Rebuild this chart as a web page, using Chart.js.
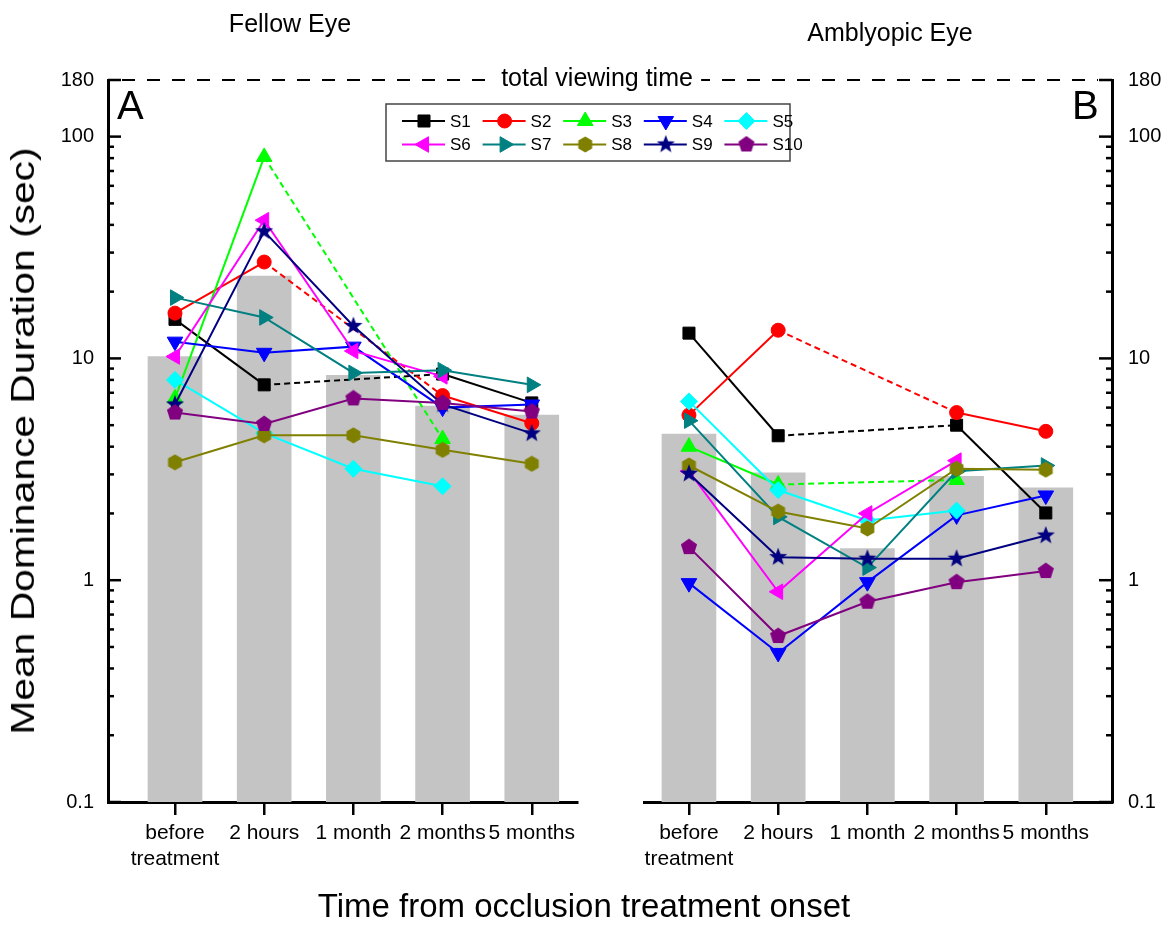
<!DOCTYPE html>
<html>
<head>
<meta charset="utf-8">
<script src="https://cdn.jsdelivr.net/npm/chart.js@4.4.1/dist/chart.umd.min.js"></script>
<style>
body { margin: 0; background: #fff; }
#wrap { position: relative; width: 1168px; height: 944px; font-family: "Liberation Sans", Arial, sans-serif; color: #000; }
canvas { position: absolute; left: 0; top: 0; }
.lbl { position: absolute; white-space: nowrap; line-height: 1; }
</style>
</head>
<body>
<div id="wrap">
  <canvas id="fellowChart" width="1168" height="944"></canvas>
  <canvas id="amblyChart" width="1168" height="944"></canvas>
  <div class="lbl" style="left:290px; top:11px; font-size:25px; transform:translateX(-50%);">Fellow Eye</div>
  <div class="lbl" style="left:890px; top:20px; font-size:25px; transform:translateX(-50%);">Amblyopic Eye</div>
  <div class="lbl" style="left:117px; top:85px; font-size:40px;">A</div>
  <div class="lbl" style="left:1072px; top:85px; font-size:40px;">B</div>
  <div class="lbl" style="left:597px; top:65px; font-size:25px; transform:translateX(-50%); background:#fff; padding:0 8px;">total viewing time</div>
  <div class="lbl" style="left:22px; top:441px; font-size:34px; transform:translate(-50%,-50%) rotate(-90deg) scaleX(1.2);">Mean Dominance Duration (sec)</div>
  <div class="lbl" style="left:584px; top:889px; font-size:33px; transform:translateX(-50%);">Time from occlusion treatment onset</div>
</div>
<script>
// Catégories et graduations
const categories = ['before\ntreatment', '2 hours', '1 month', '2 months', '5 months'];
const yTicks = [0.1, 0.2, 0.3, 0.4, 0.5, 0.6, 0.7, 0.8, 0.9,
                1, 2, 3, 4, 5, 6, 7, 8, 9,
                10, 20, 30, 40, 50, 60, 70, 80, 90, 100, 180];
const yLabelled = [0.1, 1, 10, 100, 180];
const totalViewing = 180;

const subjects = ['S1', 'S2', 'S3', 'S4', 'S5', 'S6', 'S7', 'S8', 'S9', 'S10'];

// Moyennes (barres grises)
const fellowMeans = [10.2, 23.5, 8.4, 6.1, 5.55];
const amblyMeans = [4.56, 3.05, 1.39, 2.94, 2.61];

// Oeil sain (A)
const fellowS1 = [15.0, 7.6, null, 8.5, 6.3];
const fellowS2 = [16.0, 27.2, null, 6.8, 5.1];
const fellowS3 = [6.6, 81, null, 4.33, null];
const fellowS4 = [11.9, 10.6, 11.3, 6.0, 6.2];
const fellowS5 = [8.0, 4.6, 3.18, 2.65, null];
const fellowS6 = [10.2, 42, 10.8, 8.3, null];
const fellowS7 = [18.8, 15.3, 8.6, 8.85, 7.6];
const fellowS8 = [3.4, 4.5, 4.5, 3.87, 3.35];
const fellowS9 = [6.2, 37.4, 14.0, 6.2, 4.59];
const fellowS10 = [5.7, 5.06, 6.6, 6.3, 5.76];

// Oeil amblyope (B)
const amblyS1 = [13.0, 4.48, null, 5.0, 2.01];
const amblyS2 = [5.55, 13.4, null, 5.7, 4.69];
const amblyS3 = [4.0, 2.7, null, 2.83, null];
const amblyS4 = [0.97, 0.47, 0.98, 1.96, 2.41];
const amblyS5 = [6.4, 2.55, 1.86, 2.06, null];
const amblyS6 = [3.1, 0.887, 2.0, 3.46, null];
const amblyS7 = [5.24, 1.93, 1.14, 3.1, 3.29];
const amblyS8 = [3.29, 2.04, 1.71, 3.18, 3.15];
const amblyS9 = [3.02, 1.27, 1.25, 1.25, 1.59];
const amblyS10 = [1.41, 0.56, 0.80, 0.98, 1.10];

const fellowSeries = [fellowS1, fellowS2, fellowS3, fellowS4, fellowS5, fellowS6, fellowS7, fellowS8, fellowS9, fellowS10];
const amblySeries = [amblyS1, amblyS2, amblyS3, amblyS4, amblyS5, amblyS6, amblyS7, amblyS8, amblyS9, amblyS10];

const subjectColors = ['#000000', '#ff0000', '#00ff00', '#0000ff', '#00ffff',
                       '#ff00ff', '#008080', '#808000', '#000080', '#800080'];
const barColor = '#c4c4c4';

Chart.defaults.font.family = '"Liberation Sans", Arial, sans-serif';
Chart.defaults.color = '#000';

// Marqueurs non fournis par Chart.js (hexagone, étoile, pentagone)
function makeMarker(shape, color, size) {
    const c = document.createElement('canvas');
    c.width = size; c.height = size;
    const g = c.getContext('2d');
    const cx = size / 2, cy = size / 2, r = size / 2 - 0.5;
    g.fillStyle = color;
    g.beginPath();
    if (shape === 'star') {
        for (let k = 0; k < 10; k++) {
            const rr = k % 2 === 0 ? r : r * 0.42;
            const a = -Math.PI / 2 + k * Math.PI / 5;
            g.lineTo(cx + rr * Math.cos(a), cy + rr * Math.sin(a));
        }
    } else {
        const n = shape === 'hexagon' ? 6 : 5;
        for (let k = 0; k < n; k++) {
            const a = -Math.PI / 2 + k * 2 * Math.PI / n;
            g.lineTo(cx + r * Math.cos(a), cy + r * Math.sin(a));
        }
    }
    g.closePath();
    g.fill();
    return c;
}

const markerStyles = ['rect', 'circle', 'triangle', 'triangle', 'rectRot', 'triangle', 'triangle',
    makeMarker('hexagon', subjectColors[7], 17), makeMarker('star', subjectColors[8], 20), makeMarker('pentagon', subjectColors[9], 18)];
const markerRadius = [8.5, 7, 9, 9, 8.5, 9, 9, 8, 9, 8];
const markerRotation = [0, 0, 0, 180, 0, -90, 90, 0, 0, 0];

// segment pointillé quand une mesure manque
const gapDash = ctx => (ctx.p0.skip || ctx.p1.skip ? [6, 4] : undefined);

function buildDatasets(means, series) {
    const sets = [{
        type: 'bar',
        label: 'mean',
        data: means.map((v, i) => ({ x: i, y: v })),
        backgroundColor: barColor,
        borderWidth: 0,
        barThickness: 54,
        order: 100
    }];
    series.forEach((vals, k) => {
        sets.push({
            type: 'line',
            label: subjects[k],
            data: vals.map((v, i) => ({ x: i, y: v })),
            borderColor: subjectColors[k],
            backgroundColor: subjectColors[k],
            pointBackgroundColor: subjectColors[k],
            pointBorderColor: subjectColors[k],
            pointBorderWidth: 1,
            pointStyle: markerStyles[k],
            pointRadius: markerRadius[k],
            pointRotation: markerRotation[k],
            borderWidth: 2,
            spanGaps: true,
            order: 50 - k,
            segment: { borderDash: gapDash }
        });
    });
    return sets;
}

// Graduations vers l'intérieur sur l'axe des y
const inwardTicks = {
    id: 'inwardTicks',
    beforeDatasetsDraw(chart) {
        const y = chart.scales.y;
        const ctx = chart.ctx;
        const onLeft = y.position === 'left';
        const x0 = onLeft ? chart.chartArea.left : chart.chartArea.right;
        const dir = onLeft ? 1 : -1;
        ctx.save();
        ctx.strokeStyle = '#000';
        ctx.lineWidth = 2.5;
        y.ticks.forEach(t => {
            const py = y.getPixelForValue(t.value);
            const len = yLabelled.includes(t.value) ? 13 : 6;
            ctx.beginPath();
            ctx.moveTo(x0, py);
            ctx.lineTo(x0 + dir * len, py);
            ctx.stroke();
        });
        ctx.restore();
    }
};

function panelOptions(side, xMin, xMax, padding, axisWidth, labelPad) {
    return {
        responsive: false,
        animation: false,
        layout: { padding: padding },
        plugins: { legend: { display: false }, tooltip: { enabled: false } },
        scales: {
            x: {
                type: 'linear',
                min: xMin,
                max: xMax,
                offset: false,
                afterBuildTicks: s => { s.ticks = categories.map((c, i) => ({ value: i })); },
                afterFit: s => { s.height = 142; },
                grid: { offset: false, drawOnChartArea: false, drawTicks: true, tickLength: 13, color: '#000', lineWidth: 2.5 },
                border: { display: true, color: '#000', width: 3 },
                ticks: {
                    autoSkip: false,
                    maxRotation: 0,
                    padding: 6,
                    color: '#000',
                    font: { size: 21, lineHeight: 1.2 },
                    callback: v => categories[v].split('\n')
                }
            },
            y: {
                type: 'logarithmic',
                position: side,
                min: 0.1,
                max: 180,
                afterBuildTicks: s => { s.ticks = yTicks.map(v => ({ value: v })); },
                afterFit: s => { s.width = axisWidth; },
                grid: { display: false, drawTicks: false },
                border: { display: true, color: '#000', width: 3 },
                ticks: {
                    autoSkip: false,
                    padding: labelPad,
                    color: '#000',
                    font: { size: 20 },
                    callback: v => (yLabelled.includes(v) ? String(v) : '')
                }
            }
        }
    };
}

const fellowChart = new Chart(document.getElementById('fellowChart'), {
    type: 'line',
    data: { datasets: buildDatasets(fellowMeans, fellowSeries) },
    options: panelOptions('left', -0.751, 4.507, { left: 0, right: 591, top: 80, bottom: 0 }, 108, 14),
    plugins: [inwardTicks]
});

// Ligne "total viewing time" et légende commune
const overlay = {
    id: 'overlay',
    afterDraw(chart) {
        const ctx = chart.ctx;
        const py = chart.scales.y.getPixelForValue(totalViewing);
        ctx.save();
        ctx.strokeStyle = '#000';
        ctx.lineWidth = 2;
        ctx.setLineDash([13, 12]);
        ctx.beginPath();
        ctx.moveTo(fellowChart.chartArea.left + 14, py);
        ctx.lineTo(chart.chartArea.right - 14, py);
        ctx.stroke();
        ctx.setLineDash([]);

        // légende
        const bx = 386, by = 104, bw = 404, bh = 57;
        ctx.fillStyle = '#fff';
        ctx.fillRect(bx, by, bw, bh);
        ctx.strokeStyle = '#444';
        ctx.lineWidth = 1.5;
        ctx.strokeRect(bx, by, bw, bh);
        ctx.font = '17px "Liberation Sans", Arial, sans-serif';
        ctx.textBaseline = 'middle';
        subjects.forEach((name, k) => {
            const col = k % 5, row = Math.floor(k / 5);
            const x0 = 402 + col * 80.6;
            const y0 = 121 + row * 23.5;
            ctx.strokeStyle = subjectColors[k];
            ctx.fillStyle = subjectColors[k];
            ctx.lineWidth = 2;
            ctx.beginPath();
            ctx.moveTo(x0, y0);
            ctx.lineTo(x0 + 43, y0);
            ctx.stroke();
            ctx.lineWidth = 1;
            Chart.helpers.drawPoint(ctx, {
                pointStyle: markerStyles[k],
                radius: markerRadius[k],
                rotation: markerRotation[k],
                borderWidth: 1
            }, x0 + 22, y0);
            ctx.fillStyle = '#000';
            ctx.fillText(name, x0 + 48, y0 + 1);
        });
        ctx.restore();
    }
};

const amblyChart = new Chart(document.getElementById('amblyChart'), {
    type: 'line',
    data: { datasets: buildDatasets(amblyMeans, amblySeries) },
    options: panelOptions('right', -0.504, 4.742, { left: 644, right: 0, top: 80, bottom: 0 }, 56, 16),
    plugins: [inwardTicks, overlay]
});
</script>
</body>
</html>
